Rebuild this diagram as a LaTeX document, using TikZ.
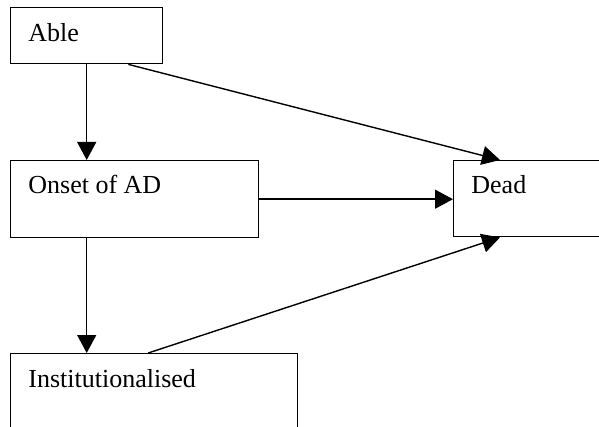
\documentclass[tikz,border=0pt]{standalone}
\usepackage{fontspec}
\setmainfont{Liberation Serif}
\usetikzlibrary{arrows.meta, positioning}
\tikzset{
    state/.style={draw, line width=0.7pt, anchor=north west, inner sep=0pt},
    lbl/.style={anchor=base west, inner sep=0pt, font=\fontsize{13}{15}\selectfont},
    arr/.style={line width=0.7pt, -{Triangle[length=9pt, width=9.5pt]}}
}
\begin{document}
\begin{tikzpicture}[x=0.5pt, y=-0.5pt]
        \clip (0,0) rectangle (599,427);
        \fill[white] (0,0) rectangle (599,427);
        % Boxes
        \node[state, minimum width=76pt, minimum height=28pt] (able) at (10,7) {};
        \node[state, minimum width=124pt, minimum height=38.5pt] (onset) at (10,160) {};
        \node[state, minimum width=80pt, minimum height=38pt] (dead) at (453,160) {};
        \node[state, minimum width=143.5pt, minimum height=45pt] (inst) at (10,353) {};
        % Labels inside boxes
        \node[lbl] (ablelbl) at ([shift={(18,35)}]able.north west) {Able};
        \node[lbl] (onsetlbl) at ([shift={(18,34)}]onset.north west) {Onset of AD};
        \node[lbl] (deadlbl) at ([shift={(18,34)}]dead.north west) {Dead};
        \node[lbl] (instlbl) at ([shift={(18,34)}]inst.north west) {Institutionalised};
        % Transitions
        \draw[arr] (able.south) -- (able.south |- onset.north);
        \draw[arr] ([xshift=-17.5pt]able.south east) -- ([xshift=23.5pt]dead.north west);
        \draw[arr] (onset.east) -- (onset.east -| dead.west);
        \draw[arr] (able.south |- onset.south) -- (able.south |- inst.north);
        \draw[arr] ([xshift=-3pt]inst.north) -- ([xshift=23.5pt]dead.south west);
    \end{tikzpicture}
\end{document}
